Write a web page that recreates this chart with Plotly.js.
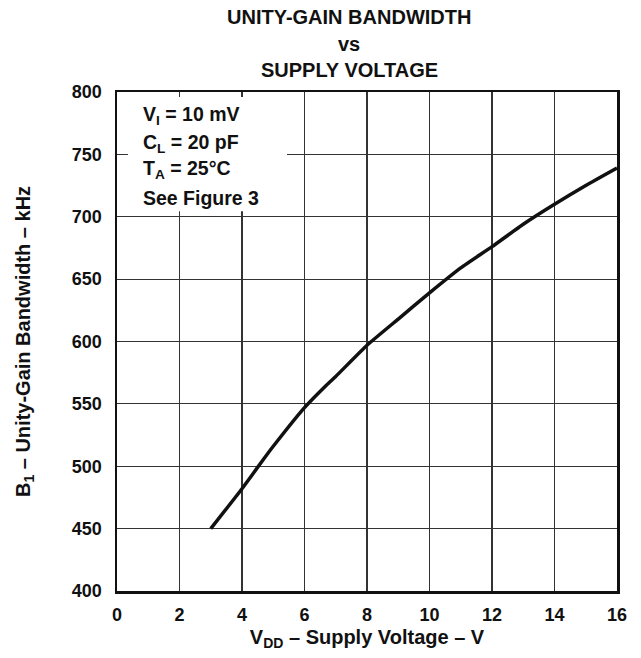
<!DOCTYPE html>
<html>
<head>
<meta charset="utf-8">
<script src="https://cdn.plot.ly/plotly-3.0.1.min.js"></script>
<style>html,body{margin:0;padding:0;background:#fff;}</style>
</head>
<body>
<div id="chart" style="width:641px;height:658px;"></div>
<script>
// Supply voltage (V)
var supplyVoltage = [3, 4, 4.7, 5, 6, 6.7, 7, 8, 9, 10, 11, 12, 13, 14, 15, 16];
// Unity-gain bandwidth (kHz)
var bandwidth = [450, 482, 506, 516, 547, 565, 572, 597, 618, 639, 659, 676, 694, 710, 725, 739];

var xTicks = [0, 2, 4, 6, 8, 10, 12, 14, 16];
var yTicks = [400, 450, 500, 550, 600, 650, 700, 750, 800];

var titleLines = ["UNITY-GAIN BANDWIDTH", "vs", "SUPPLY VOLTAGE"];
var titleY = [17, 44, 70];
var conditionLines = ["V<sub>I</sub> = 10 mV", "C<sub>L</sub> = 20 pF", "T<sub>A</sub> = 25°C", "See Figure 3"];
var conditionY = [781, 759, 737.5, 715];

var FONT = "Liberation Sans, Arial, Helvetica, sans-serif";
var H = 658, W = 641;

var trace = {
  x: supplyVoltage,
  y: bandwidth,
  type: "scatter",
  mode: "lines",
  line: {color: "#111", width: 3.5, shape: "spline", smoothing: 0.4},
  hoverinfo: "skip"
};

var annotations = conditionLines.map(function (t, i) {
  return {
    text: "<b>" + t + "</b>",
    x: 0.77, y: conditionY[i], xref: "x", yref: "y",
    xanchor: "left", yanchor: "middle",
    showarrow: false,
    font: {family: FONT, size: 19.5, color: "#111"}
  };
});

// Title lines (positioned in paper coordinates relative to the plot area)
var plotTop = 92, plotBottom = H - 67;
titleLines.forEach(function (t, i) {
  annotations.push({
    text: "<b>" + t + "</b>",
    x: (349 - 117) / 500, xref: "paper", xanchor: "center",
    y: (plotBottom - titleY[i]) / (plotBottom - plotTop), yref: "paper", yanchor: "middle",
    showarrow: false,
    font: {family: FONT, size: 20, color: "#111"}
  });
});

var layout = {
  width: W,
  height: H,
  margin: {l: 117, r: 24, t: 92, b: 67},
  paper_bgcolor: "#fff",
  plot_bgcolor: "#fff",
  showlegend: false,
  font: {family: FONT, color: "#111"},
  xaxis: {
    range: [0, 16],
    tickvals: xTicks,
    ticktext: xTicks.map(String),
    showgrid: true, gridcolor: "#333", gridwidth: 1.2,
    zeroline: false,
    showline: true, linecolor: "#111", linewidth: 2.5, mirror: true,
    ticks: "",
    ticklabelstandoff: 6,
    tickfont: {family: FONT, size: 18, color: "#111", weight: "bold"},
    fixedrange: true,
    title: {
      text: "<b>V<sub>DD</sub> – Supply Voltage – V</b>",
      font: {family: FONT, size: 20, color: "#111"},
      standoff: 6
    }
  },
  yaxis: {
    range: [400, 800],
    tickvals: yTicks,
    ticktext: yTicks.map(String),
    showgrid: true, gridcolor: "#333", gridwidth: 1.2,
    zeroline: false,
    showline: true, linecolor: "#111", linewidth: 2.5, mirror: true,
    ticks: "",
    ticklabelstandoff: 9,
    tickfont: {family: FONT, size: 18, color: "#111", weight: "bold"},
    fixedrange: true,
    title: {
      text: "<b>B<sub>1</sub> – Unity-Gain Bandwidth – kHz</b>",
      font: {family: FONT, size: 20, color: "#111"},
      standoff: 36
    }
  },
  shapes: [{
    type: "rect", xref: "x", yref: "y",
    x0: 0.35, x1: 5.44, y0: 704.5, y1: 796,
    fillcolor: "#fff", line: {width: 0}, layer: "between"
  }],
  annotations: annotations
};

Plotly.newPlot("chart", [trace], layout, {displayModeBar: false, staticPlot: true});
</script>
</body>
</html>
